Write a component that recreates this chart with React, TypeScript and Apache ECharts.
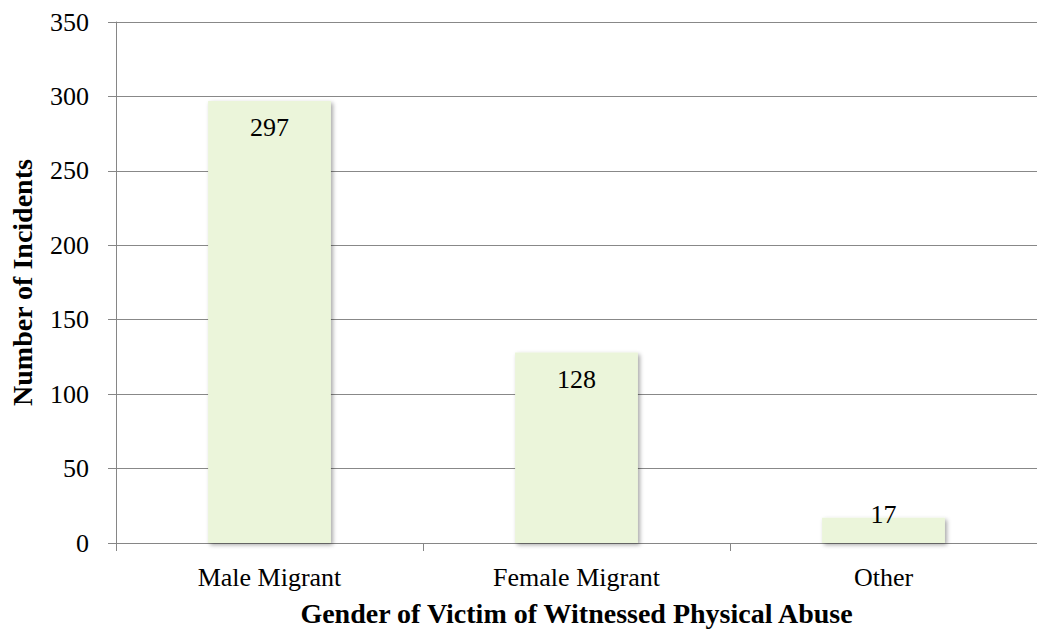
import React, { useEffect, useRef } from "react";
import * as echarts from "echarts";

const categories = ["Male Migrant", "Female Migrant", "Other"];
const incidents = [297, 128, 17];
const yTicks = { min: 0, max: 350, interval: 50 };
const xAxisTitle = "Gender of Victim of Witnessed Physical Abuse";
const yAxisTitle = "Number of Incidents";

const FONT = "'Liberation Serif', 'Times New Roman', serif";

export default function App() {
  const ref = useRef<HTMLDivElement>(null);
  useEffect(() => {
    if (!ref.current) return;
    const chart = echarts.init(ref.current, null, { renderer: "svg" });
    const barData = incidents.map((v) =>
      v < 30
        ? { value: v, label: { position: "top", distance: -10 } }
        : { value: v }
    );
    chart.setOption({
      animation: false,
      backgroundColor: "#ffffff",
      grid: { left: 112, top: 22, width: 936, height: 525, containLabel: false },
      xAxis: {
        type: "category",
        data: categories,
        name: xAxisTitle,
        nameLocation: "middle",
        nameGap: 56,
        nameTextStyle: { fontFamily: FONT, fontSize: 28, fontWeight: "bold", color: "#000" },
        axisLine: { lineStyle: { color: "#868686", width: 1 } },
        axisTick: { show: true, length: 8, alignWithLabel: false, lineStyle: { color: "#868686" } },
        axisLabel: { fontFamily: FONT, fontSize: 26, color: "#000", margin: 21 },
      },
      yAxis: {
        type: "value",
        min: yTicks.min,
        max: yTicks.max,
        interval: yTicks.interval,
        name: yAxisTitle,
        nameLocation: "middle",
        nameRotate: 90,
        nameGap: 80,
        nameTextStyle: { fontFamily: FONT, fontSize: 28, fontWeight: "bold", color: "#000" },
        axisLine: { show: true, lineStyle: { color: "#868686", width: 1 } },
        axisTick: { show: true, length: 8, lineStyle: { color: "#868686" } },
        axisLabel: { fontFamily: FONT, fontSize: 26, color: "#000", margin: 27 },
        splitLine: { show: true, lineStyle: { color: "#888888", width: 1 } },
      },
      series: [
        {
          type: "bar",
          data: barData,
          barWidth: "40%",
          itemStyle: {
            color: "#EBF5DA",
            shadowColor: "rgba(0,0,0,0.35)",
            shadowBlur: 4,
            shadowOffsetX: 2,
            shadowOffsetY: 2,
          },
          label: {
            show: true,
            position: "insideTop",
            distance: 14,
            fontFamily: FONT,
            fontSize: 26,
            color: "#000",
          },
        },
      ],
    });
    return () => chart.dispose();
  }, []);
  return <div ref={ref} style={{ width: 1037, height: 632, position: "absolute", left: 0, top: 0 }} />;
}
